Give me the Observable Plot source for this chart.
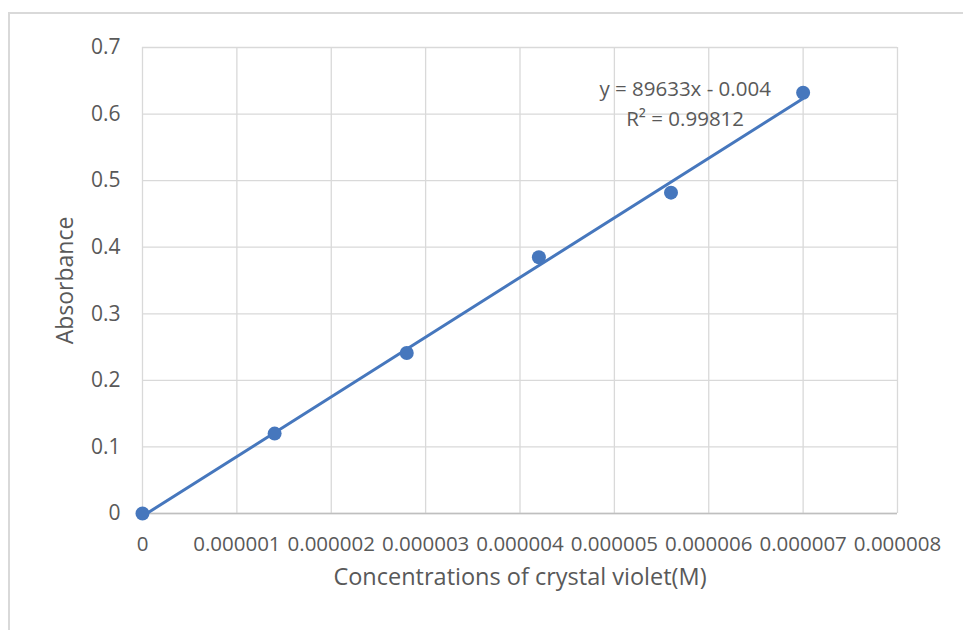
<!DOCTYPE html>
<html>
<head>
<meta charset="utf-8">
<script src="https://cdn.jsdelivr.net/npm/d3@7"></script>
<script src="https://cdn.jsdelivr.net/npm/@observablehq/plot@0.6"></script>
<style>
  html, body { margin: 0; padding: 0; background: #fff; }
  #wrap { position: relative; width: 963px; height: 630px; overflow: hidden; }
  #frame { position: absolute; left: 8px; top: 12px; right: -5px; bottom: -5px;
           border-top: 2px solid #d9d9d9; border-left: 2px solid #d9d9d9; pointer-events: none; }
  #chart { position: absolute; left: 0; top: 0; }
</style>
</head>
<body>
<div id="wrap"><div id="chart"></div><div id="frame"></div></div>
<script>
// Data
const concentrations = [0, 0.0000014, 0.0000028, 0.0000042, 0.0000056, 0.000007];
const absorbance = [0, 0.12, 0.241, 0.385, 0.482, 0.632];
const xTicks = [0, 0.000001, 0.000002, 0.000003, 0.000004, 0.000005, 0.000006, 0.000007, 0.000008];
const yTicks = [0, 0.1, 0.2, 0.3, 0.4, 0.5, 0.6, 0.7];
const slope = 89633;
const intercept = -0.004;
const equationLines = ["y = 89633x - 0.004", "R² = 0.99812"];
const xTitle = "Concentrations of crystal violet(M)";
const yTitle = "Absorbance";

const points = concentrations.map((c, i) => ({c, a: absorbance[i]}));
const xExtent = d3.extent(concentrations);
const trend = xExtent.map(c => ({c, a: slope * c + intercept}));
const last = points[points.length - 1];

const blue = "#4677bd";
const textColor = "#595959";
const font = "'Open Sans', 'Noto Sans', sans-serif";

const chart = Plot.plot({
  width: 963,
  height: 630,
  marginLeft: 142,
  marginRight: 66,
  marginTop: 47,
  marginBottom: 117,
  style: {fontFamily: font, color: textColor, background: "transparent", overflow: "visible"},
  x: {domain: [0, 0.000008]},
  y: {domain: [0, 0.7]},
  marks: [
    Plot.gridX(xTicks, {stroke: "#d9d9d9", strokeOpacity: 1, strokeWidth: 1.3}),
    Plot.gridY(yTicks, {stroke: "#d9d9d9", strokeOpacity: 1, strokeWidth: 1.3}),
    Plot.ruleY([0], {stroke: "#bfbfbf", strokeWidth: 1.5}),
    Plot.axisX(xTicks, {tickSize: 0, tickPadding: 23, fontSize: 20.5, fill: textColor,
      tickFormat: d => d === 0 ? "0" : d.toFixed(6), label: null}),
    Plot.axisY(yTicks, {tickSize: 0, tickPadding: 22, fontSize: 21, fill: textColor,
      tickFormat: d => d === 0 ? "0" : d.toFixed(1), label: null}),
    Plot.line(trend, {x: "c", y: "a", stroke: blue, strokeWidth: 3}),
    Plot.dot(points, {x: "c", y: "a", r: 7, fill: blue, stroke: "none"}),
    Plot.text([last], {x: "c", y: "a", text: () => equationLines[0], dx: -118, dy: -3,
      fontSize: 20.5, fill: textColor}),
    Plot.text([last], {x: "c", y: "a", text: () => equationLines[1], dx: -118, dy: 27,
      fontSize: 20.5, fill: textColor}),
    Plot.text([xTitle], {frameAnchor: "bottom", dy: 71, fontSize: 23.5, fill: textColor}),
    Plot.text([yTitle], {frameAnchor: "left", textAnchor: "middle", dx: -77, rotate: -90,
      fontSize: 23, fill: textColor})
  ]
});
document.getElementById("chart").appendChild(chart);
</script>
</body>
</html>
